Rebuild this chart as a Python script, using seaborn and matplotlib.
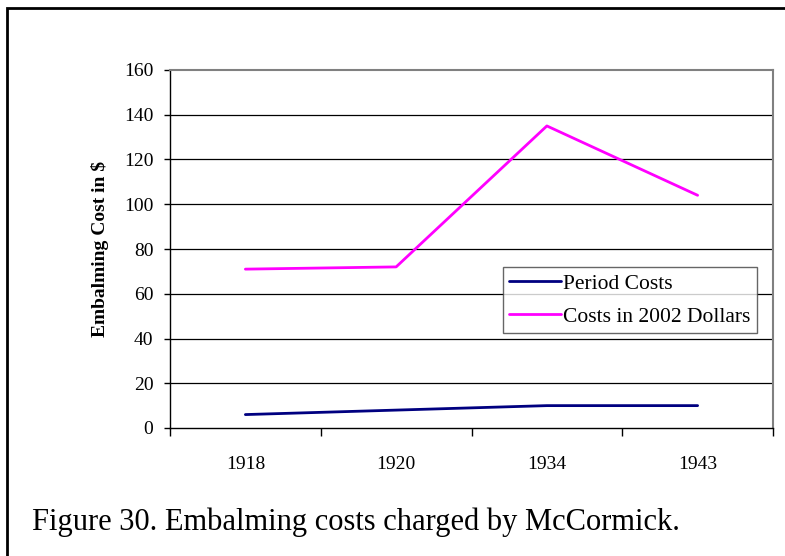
import pandas as pd
import matplotlib.pyplot as plt
import seaborn as sns
from matplotlib.patches import Rectangle

years = ["1918", "1920", "1934", "1943"]
period_costs = [6, 8, 10, 10]
costs_2002 = [71, 72, 135, 104]
series_names = ["Period Costs", "Costs in 2002 Dollars"]
y_ticks = [0, 20, 40, 60, 80, 100, 120, 140, 160]


def main():
    df = pd.DataFrame({
        "Year": years * 2,
        "Cost": period_costs + costs_2002,
        "Series": [series_names[0]] * 4 + [series_names[1]] * 4,
    })

    sns.set_style("white")
    plt.rcParams["font.family"] = ["Liberation Serif", "DejaVu Serif"]
    plt.rcParams.update({"text.color": "black", "axes.labelcolor": "black",
                         "xtick.color": "black", "ytick.color": "black"})

    fig = plt.figure(figsize=(7.85, 5.56), dpi=100)
    ax = fig.add_axes([170 / 785, 1 - 428 / 556, 603 / 785, 358 / 556])

    sns.lineplot(ax=ax, data=df, x="Year", y="Cost", hue="Series",
                 palette={series_names[0]: "#000080", series_names[1]: "#FF00FF"},
                 linewidth=2, sort=False)

    ax.set_xlim(-0.5, 3.5)
    ax.set_ylim(0, 160)
    ax.set_yticks(y_ticks)
    # category boundaries get the tick marks, labels sit in between
    ax.set_xticks([i - 0.5 for i in range(5)], minor=False)
    ax.set_xticklabels([])
    ax.set_xticks(range(4), minor=True)
    ax.set_xticklabels(years, minor=True)
    ax.tick_params(axis="x", which="major", bottom=True, direction="out", length=6, width=1)
    ax.tick_params(axis="x", which="minor", bottom=True, length=0, pad=20, labelsize=14)
    ax.tick_params(axis="y", left=True, direction="out", length=4, width=1, labelsize=14, pad=8)

    for y in y_ticks[1:-1]:
        ax.axhline(y, color="black", linewidth=0.9, zorder=0)

    for side in ["top", "right"]:
        ax.spines[side].set_color("#808080")
        ax.spines[side].set_linewidth(1.5)
    for side in ["left", "bottom"]:
        ax.spines[side].set_color("black")
        ax.spines[side].set_linewidth(1)

    ax.set_xlabel("")
    ax.set_ylabel("Embalming Cost in $", fontsize=14, fontweight="bold", labelpad=11)

    leg = ax.legend(loc="upper left", bbox_to_anchor=((503 - 170) / 603, (428 - 267) / 358),
                    fontsize=15.5, frameon=True, fancybox=False, handlelength=2.4,
                    handletextpad=0.1, borderpad=0.3, labelspacing=0.6, borderaxespad=0)
    leg.get_frame().set_edgecolor("#404040")
    leg.get_frame().set_linewidth(1)

    fig.text(32 / 785, 1 - 522 / 556, "Figure 30. Embalming costs charged by McCormick.",
             fontsize=22, va="center", ha="left")

    fig.patches.append(Rectangle((7 / 785, -0.1), 1.2, 1 - 8 / 556 + 0.1,
                                 transform=fig.transFigure, fill=False,
                                 edgecolor="black", linewidth=2))

    fig.savefig("out.png", dpi=100)


if __name__ == "__main__":
    main()
